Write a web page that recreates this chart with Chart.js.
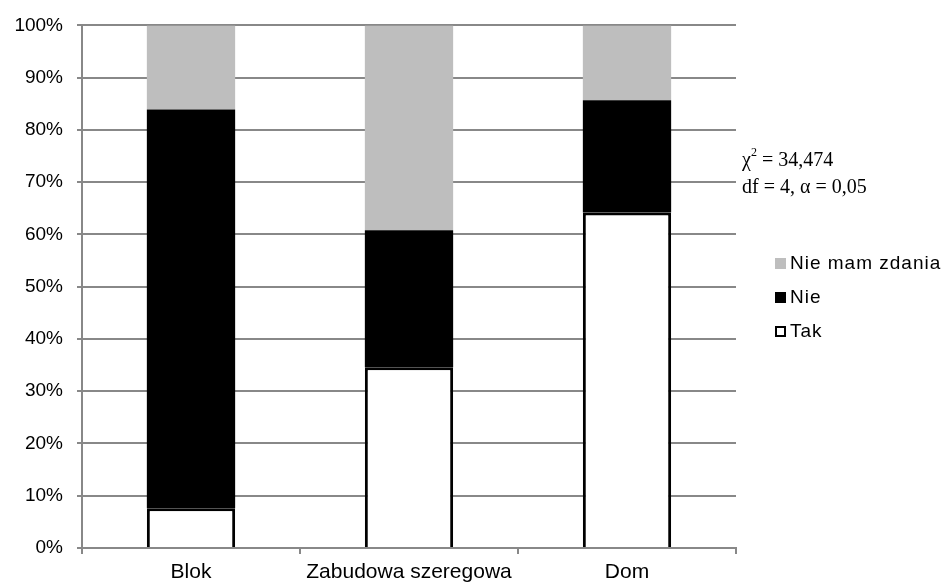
<!DOCTYPE html>
<html><head><meta charset="utf-8">
<script src="https://cdn.jsdelivr.net/npm/chart.js@4"></script>
<style>html,body{margin:0;padding:0;background:#fff}#wrap{width:945px;height:583px}</style>
</head><body><div id="wrap"><canvas id="c" width="945" height="583"></canvas></div>
<script>
const categories = ["Blok", "Zabudowa szeregowa", "Dom"];
const tak = [7.6, 34.6, 64.2];
const nie = [76.3, 26.2, 21.5];
const nieMam = [16.1, 39.2, 14.3];
const statLines = ["χ² = 34,474", "df = 4, α = 0,05"];

const gridColor = "#888888";

const sidePlugin = {
  id: "side",
  afterDraw(chart) {
    const ctx = chart.ctx;
    ctx.save();
    // stats text
    ctx.fillStyle = "#000";
    ctx.font = "20px 'Liberation Serif'";
    ctx.textBaseline = "middle";
    ctx.textAlign = "left";
    const x0 = 742;
    ctx.fillText("χ", x0, 161);
    const wChi = ctx.measureText("χ").width;
    ctx.font = "12px 'Liberation Serif'";
    ctx.fillText("2", x0 + wChi, 153);
    ctx.font = "20px 'Liberation Serif'";
    ctx.fillText(" = 34,474", x0 + wChi + 6, 161);
    ctx.fillText(statLines[1], x0, 188);
    // legend
    const ds = chart.data.datasets.slice().reverse();
    const ys = [263, 297, 331];
    ctx.font = "19px 'Liberation Sans'";
    try { ctx.letterSpacing = "1px"; } catch (e) {}
    ds.forEach((d, i) => {
      const y = ys[i];
      ctx.fillStyle = d.backgroundColor;
      ctx.fillRect(775, y - 5, 11, 11);
      if (d.borderWidth) {
        ctx.strokeStyle = "#000";
        ctx.lineWidth = 2;
        ctx.strokeRect(776, y - 4, 9, 9);
      }
      ctx.fillStyle = "#000";
      ctx.fillText(d.label, 790, y + 1);
    });
    ctx.restore();
  }
};

new Chart(document.getElementById("c"), {
  type: "bar",
  data: {
    labels: categories,
    datasets: [
      { label: "Tak", data: tak, backgroundColor: "#ffffff", borderColor: "#000", borderWidth: 3, borderSkipped: "bottom", barPercentage: 0.81, categoryPercentage: 0.5 },
      { label: "Nie", data: nie, backgroundColor: "#000000", borderWidth: 0, barPercentage: 0.81, categoryPercentage: 0.5 },
      { label: "Nie mam zdania", data: nieMam, backgroundColor: "#bebebe", borderWidth: 0, barPercentage: 0.81, categoryPercentage: 0.5 }
    ]
  },
  options: {
    responsive: false,
    animation: false,
    devicePixelRatio: 1,
    layout: { padding: { top: 24, right: 209, left: 0, bottom: 0 } },
    plugins: { legend: { display: false }, tooltip: { enabled: false } },
    scales: {
      x: {
        stacked: true,
        grid: { display: true, drawOnChartArea: false, drawTicks: true, tickLength: 6, color: gridColor, lineWidth: 2, offset: true },
        border: { color: gridColor, width: 2 },
        ticks: { color: "#000", font: { family: "'Liberation Sans'", size: 21 }, padding: 6 },
        afterFit: s => { s.height = 35; }
      },
      y: {
        stacked: true,
        min: 0, max: 100,
        ticks: { stepSize: 10, color: "#000", font: { family: "'Liberation Sans'", size: 19 }, padding: 14, callback: v => v + "%" },
        grid: { color: gridColor, lineWidth: 2, tickLength: 5 },
        border: { color: gridColor, width: 2 },
        afterFit: s => { s.width = 82; }
      }
    }
  },
  plugins: [sidePlugin]
});
</script></body></html>
